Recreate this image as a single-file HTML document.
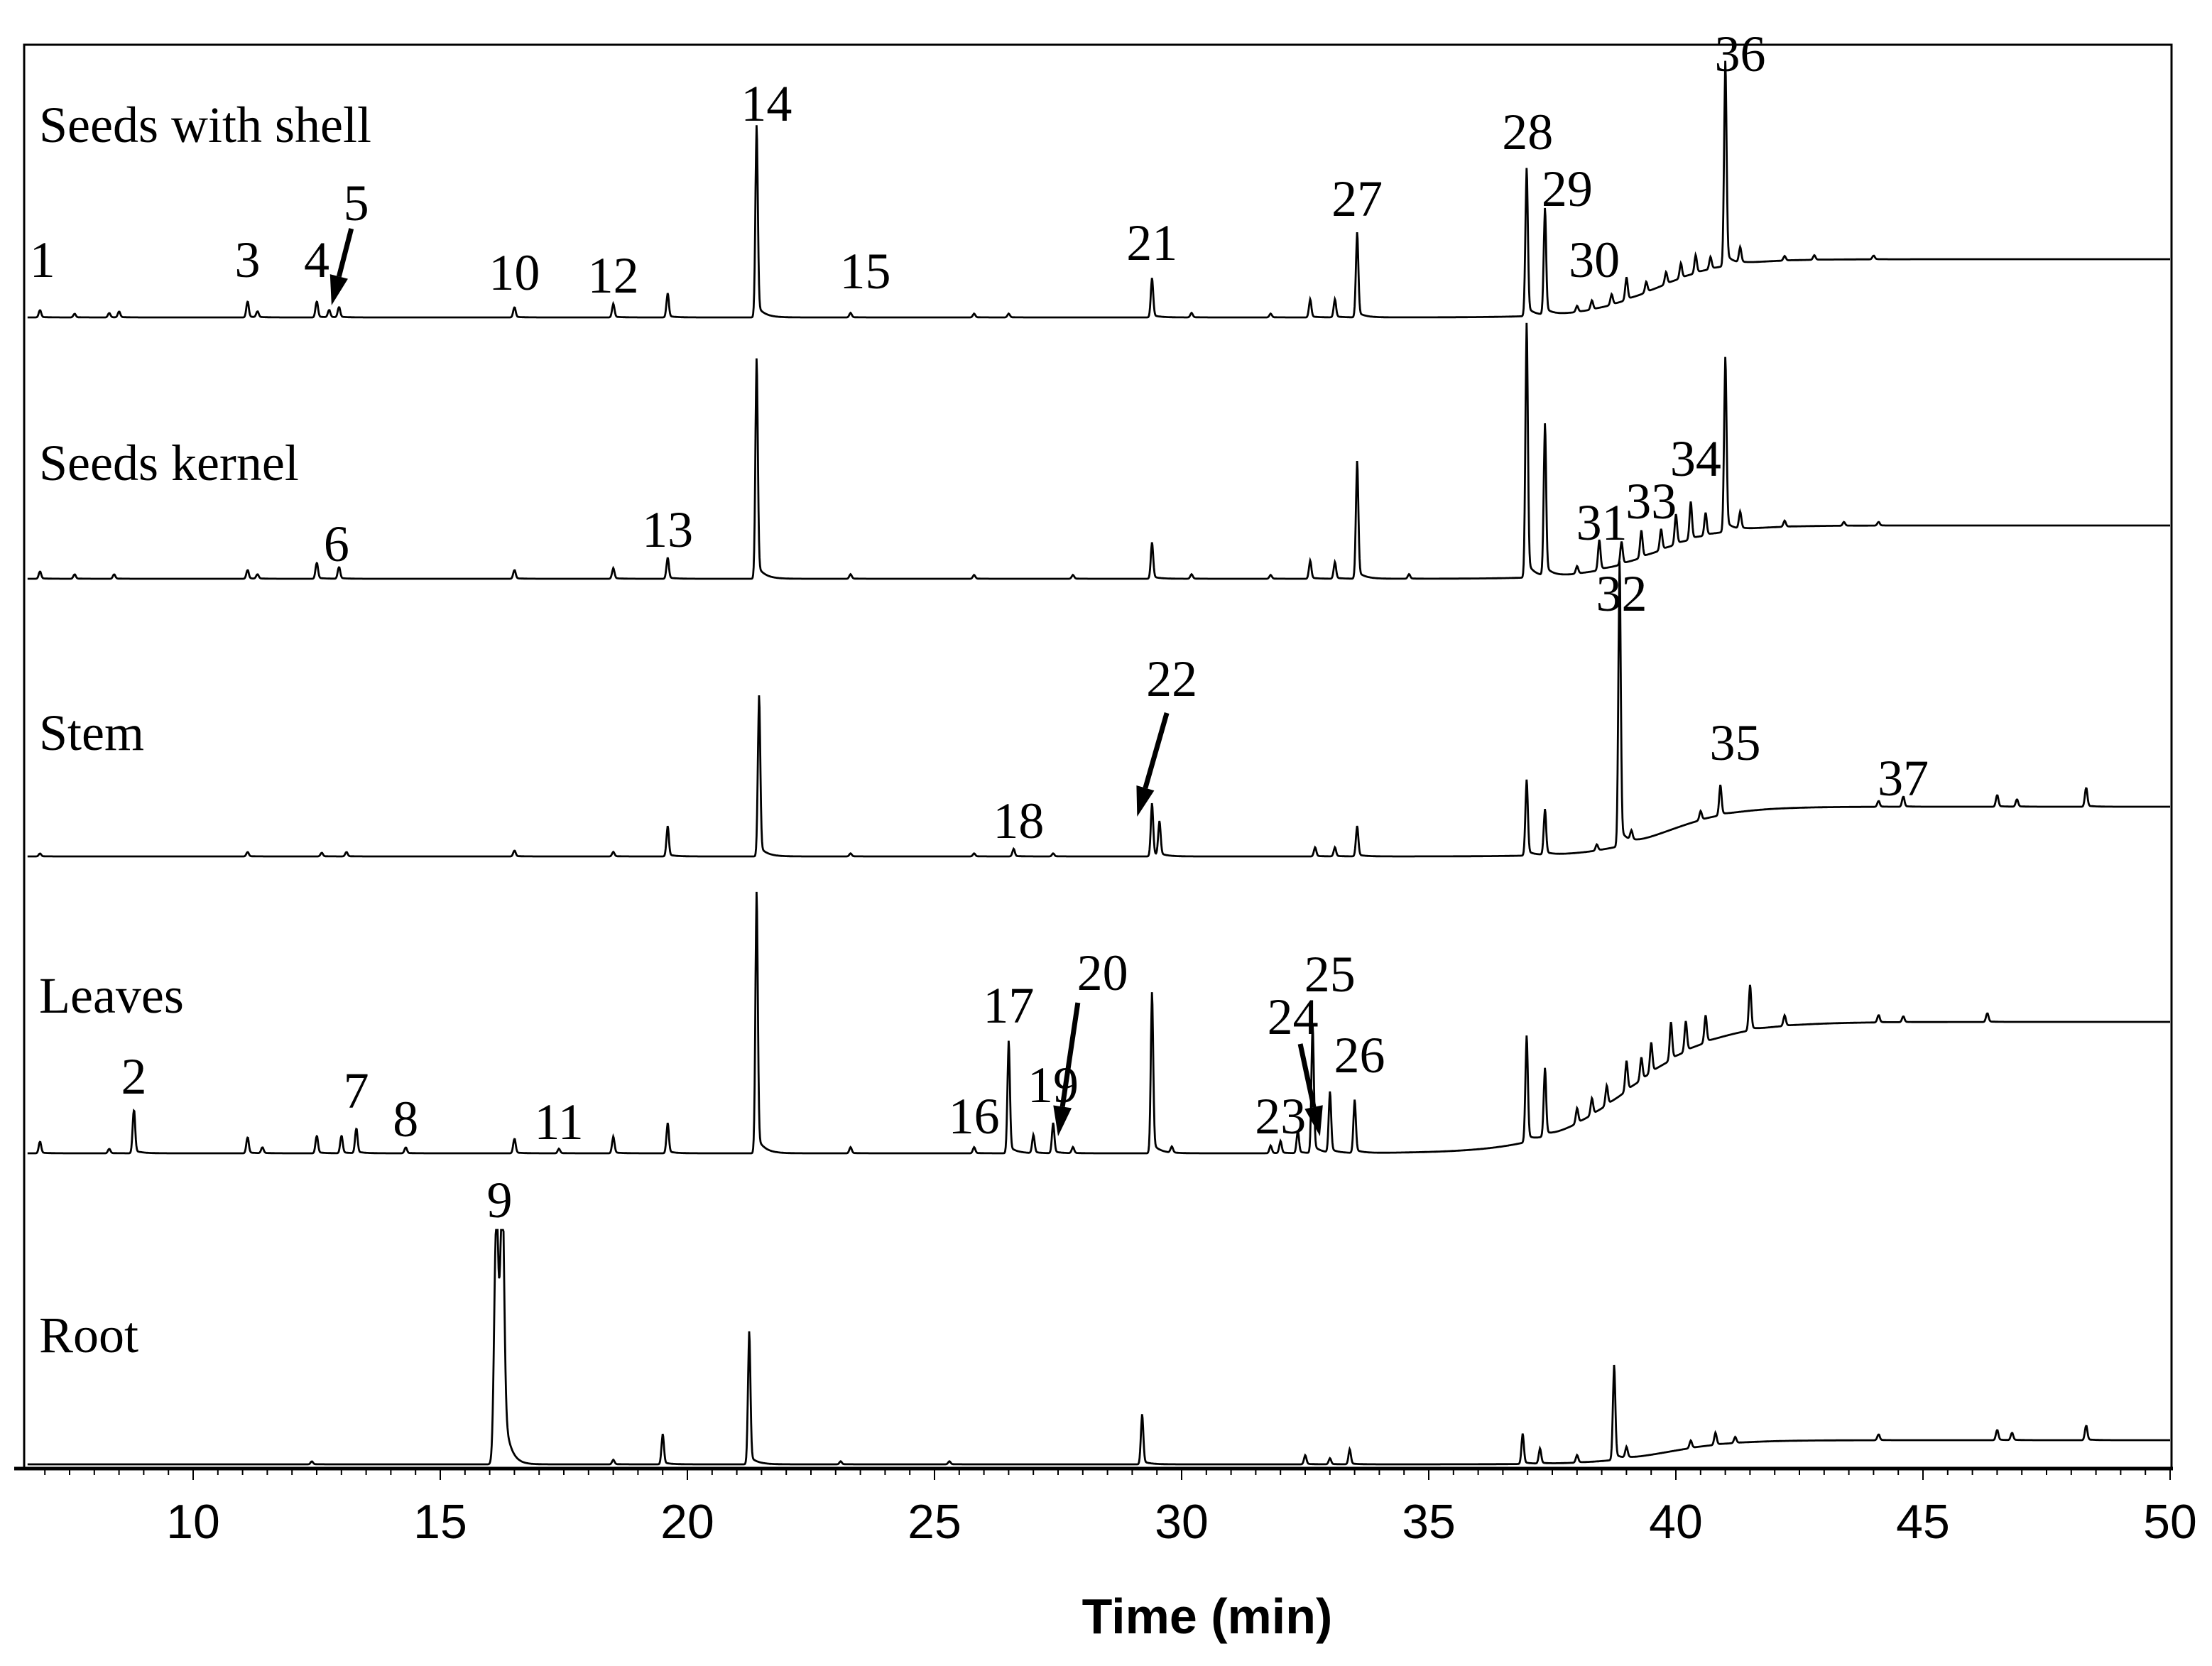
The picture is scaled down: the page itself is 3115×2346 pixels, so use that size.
<!DOCTYPE html>
<html><head><meta charset="utf-8"><style>
html,body{margin:0;padding:0;background:#fff;}
svg{display:block;}
.lbl{font-family:"Liberation Serif",serif;font-size:72px;fill:#000;}
.tick{font-family:"Liberation Sans",sans-serif;font-size:68px;fill:#000;}
</style></head><body>
<svg id="chart" width="3115" height="2346" viewBox="0 0 3115 2346" xmlns="http://www.w3.org/2000/svg">
<rect x="0" y="0" width="3115" height="2346" fill="#fff"/>
<g id="traces"></g>
<g id="axes"></g>
<g id="labels"></g>
</svg>
<script>
// ---- data ----
const sampleNames = ["Seeds with shell","Seeds kernel","Stem","Leaves","Root"];
const baselines = [447, 815, 1206, 1624, 2062];
const driftRise = [82, 75, 70, 185, 34];
const driftCenter = [39.6, 39.6, 39.8, 39.1, 39.8];
const shellTimes = [6.9,7.6,8.3,8.5,11.1,11.3,12.5,12.75,12.95,16.5,18.5,19.6,21.4,23.3,25.8,26.5,29.4,30.2,31.8,32.6,33.1,33.55,36.98,37.35,38.0,38.3,38.7,39.0,39.4,39.8,40.1,40.4,40.7,41.0,41.3,42.2,42.8,44.0];
const shellHeights = [10,5,6,8,22,8,22,10,14,14,18,32,253,6,5,5,52,6,5,24,24,112,195,140,8,12,14,30,14,16,20,24,16,270,20,6,6,5];
const kernelTimes = [6.9,7.6,8.4,11.1,11.3,12.5,12.95,16.5,18.5,19.6,21.4,23.3,25.8,27.8,29.4,30.2,31.8,32.6,33.1,33.55,34.6,36.98,37.35,38.0,38.45,38.9,39.3,39.7,40.0,40.3,40.6,41.0,41.3,42.2,43.4,44.1];
const kernelHeights = [10,6,6,12,6,22,16,12,14,28,290,6,5,5,48,6,5,24,22,155,6,335,200,10,40,30,36,28,40,50,30,230,22,8,5,5];
const stemTimes = [6.9,11.1,12.6,13.1,16.5,18.5,19.6,21.45,23.3,25.8,26.6,27.4,29.4,29.55,32.7,33.1,33.55,36.98,37.35,38.4,38.86,39.1,40.5,40.9,44.1,44.6,46.5,46.9,48.3];
const stemHeights = [4,6,5,6,8,6,40,212,4,4,10,4,70,45,12,12,40,100,60,8,375,12,12,40,8,14,16,10,26];
const leavesTimes = [6.9,8.3,8.8,11.1,11.4,12.5,13.0,13.3,14.3,16.5,17.4,18.5,19.6,21.4,23.3,25.8,26.5,27.0,27.4,27.8,29.4,29.8,31.8,32.0,32.35,32.65,33.0,33.5,36.98,37.35,38.0,38.3,38.6,39.0,39.3,39.5,39.9,40.2,40.6,41.5,42.2,44.1,44.6,46.3];
const leavesHeights = [16,6,60,22,8,24,24,34,8,20,6,22,40,344,8,8,148,24,40,8,212,8,10,16,30,170,80,70,140,90,20,22,26,40,30,40,50,40,36,60,14,10,8,12];
const rootTimes = [12.4,16.13,16.25,18.5,19.5,21.25,23.1,25.3,29.2,32.5,33.0,33.4,36.9,37.25,38.0,38.75,39.0,40.3,40.8,41.2,44.1,46.5,46.8,48.3];
const rootHeights = [4,332,320,6,40,175,4,4,66,12,8,20,40,20,10,125,14,10,16,8,8,14,10,20];
const tickValues = [10,15,20,25,30,35,40,45,50];
const tickLabels = ["10","15","20","25","30","35","40","45","50"];
const peakNums = ["1","3","4","5","10","12","14","15","21","27","28","29","30","36","6","13","31","33","34","32","22","18","35","37","2","7","8","11","16","17","19","20","23","24","25","26","9"];
const peakLabelT = [6.95,11.1,12.5,13.3,16.5,18.5,21.6,23.6,29.4,33.55,37.0,37.8,38.35,41.3,12.9,19.6,38.5,39.5,40.4,38.9,29.8,26.7,41.2,44.6,8.8,13.3,14.3,17.4,25.8,26.5,27.4,28.4,32.0,32.25,33.0,33.6,16.2];
const peakLabelY = [390,390,390,310,408,412,170,406,366,304,210,290,390,100,790,770,760,730,670,860,980,1180,1070,1120,1540,1560,1600,1604,1596,1440,1552,1394,1596,1456,1396,1510,1714];
const peakTraces = [shellTimes,kernelTimes,stemTimes,leavesTimes,rootTimes];
const peakHeightsAll = [shellHeights,kernelHeights,stemHeights,leavesHeights,rootHeights];
const arrowsFrom = [[13.2,322],[29.7,1004],[27.9,1412],[32.4,1470]];
const arrowsTo = [[12.8,430],[29.1,1150],[27.5,1600],[32.8,1600]];

// ---- axis functions ----
const X0 = 272, PXMIN = 69.6, TMIN = 6.6, TMAX = 50.0;
const xScale = t => X0 + (t - 10) * PXMIN;
const NS = "http://www.w3.org/2000/svg";
function mk(tag, attrs){const e=document.createElementNS(NS,tag);for(const k in attrs)e.setAttribute(k,attrs[k]);return e;}

const traces = document.getElementById('traces');
for (let i = 0; i < 5; i++) {
  const ts = peakTraces[i], hs = peakHeightsAll[i];
  const dw = i === 3 ? 0.9 : 0.7;
  let d = "";
  for (let t = TMIN + 0.05; t <= TMAX; t += 0.01) {
    let y = driftRise[i] / (1 + Math.exp(-(t - driftCenter[i]) / dw));
    for (let k = 0; k < ts.length; k++) {
      const dt = t - ts[k];
      const big = hs[k] > 250 && i === 4 && ts[k] < 17;
      const s = big ? 0.04 : 0.025;
      y += hs[k] * Math.exp(-0.5 * (dt / s) * (dt / s));
      if (dt > 0) y += big ? hs[k] * 0.25 * Math.exp(-dt / 0.12) : hs[k] * 0.07 * Math.exp(-dt / 0.15);
    }
    let py = baselines[i] - y;
    if (i === 4 && py < 1732) py = 1732;
    d += (d ? "L" : "M") + xScale(t).toFixed(1) + "," + py.toFixed(1);
  }
  const p = mk('path', {d: d, fill: 'none', stroke: '#000', 'stroke-width': 2.8});
  
  
  traces.appendChild(p);
  const tx = mk('text', {x: 55, y: [200, 676, 1056, 1426, 1904][i], class: 'lbl'});
  tx.textContent = sampleNames[i];
  
  
  traces.appendChild(tx);
}

// axes
const axes = document.getElementById('axes');
const frame = mk('path', {d: 'M34,2068 L34,63 L3058,63 L3058,2068', fill: 'none', stroke: '#000', 'stroke-width': 3});


axes.appendChild(frame);
const xaxis = mk('line', {x1: 20, y1: 2068, x2: 3060, y2: 2068, stroke: '#000', 'stroke-width': 5});


axes.appendChild(xaxis);
for (let t = 7; t <= 50.001; t += 0.5) {
  const major = Math.abs(t % 5) < 0.01;
  const tk = mk('line', {x1: xScale(t), y1: 2068, x2: xScale(t), y2: 2068 + (major ? 16 : 9), stroke: '#000', 'stroke-width': 2});
  
  
  axes.appendChild(tk);
}
for (let i = 0; i < tickValues.length; i++) {
  const tl = mk('text', {x: xScale(tickValues[i]), y: 2166, class: 'tick', 'text-anchor': 'middle'});
  tl.textContent = tickLabels[i];
  
  
  axes.appendChild(tl);
}
const title = mk('text', {x: 1700, y: 2300, 'text-anchor': 'middle', style: 'font-family:"Liberation Sans",sans-serif;font-size:70px;font-weight:bold'});
title.textContent = "Time (min)";


axes.appendChild(title);

// peak labels
const labels = document.getElementById('labels');
for (let i = 0; i < peakNums.length; i++) {
  const l = mk('text', {x: xScale(peakLabelT[i]), y: peakLabelY[i], class: 'lbl', 'text-anchor': 'middle'});
  l.textContent = peakNums[i];
  
  
  labels.appendChild(l);
}
for (let i = 0; i < arrowsFrom.length; i++) {
  const x1 = xScale(arrowsFrom[i][0]), y1 = arrowsFrom[i][1], x2 = xScale(arrowsTo[i][0]), y2 = arrowsTo[i][1];
  const ang = Math.atan2(y2 - y1, x2 - x1), L = 42, W = 13;
  const bx = x2 - L * Math.cos(ang), by = y2 - L * Math.sin(ang);
  const g = mk('g', {});
  
  
  g.appendChild(mk('line', {x1: x1, y1: y1, x2: bx, y2: by, stroke: '#000', 'stroke-width': 7}));
  g.appendChild(mk('polygon', {points: `${x2},${y2} ${bx - W*Math.sin(ang)},${by + W*Math.cos(ang)} ${bx + W*Math.sin(ang)},${by - W*Math.cos(ang)}`, fill: '#000'}));
  labels.appendChild(g);
}
</script>
</body></html>
